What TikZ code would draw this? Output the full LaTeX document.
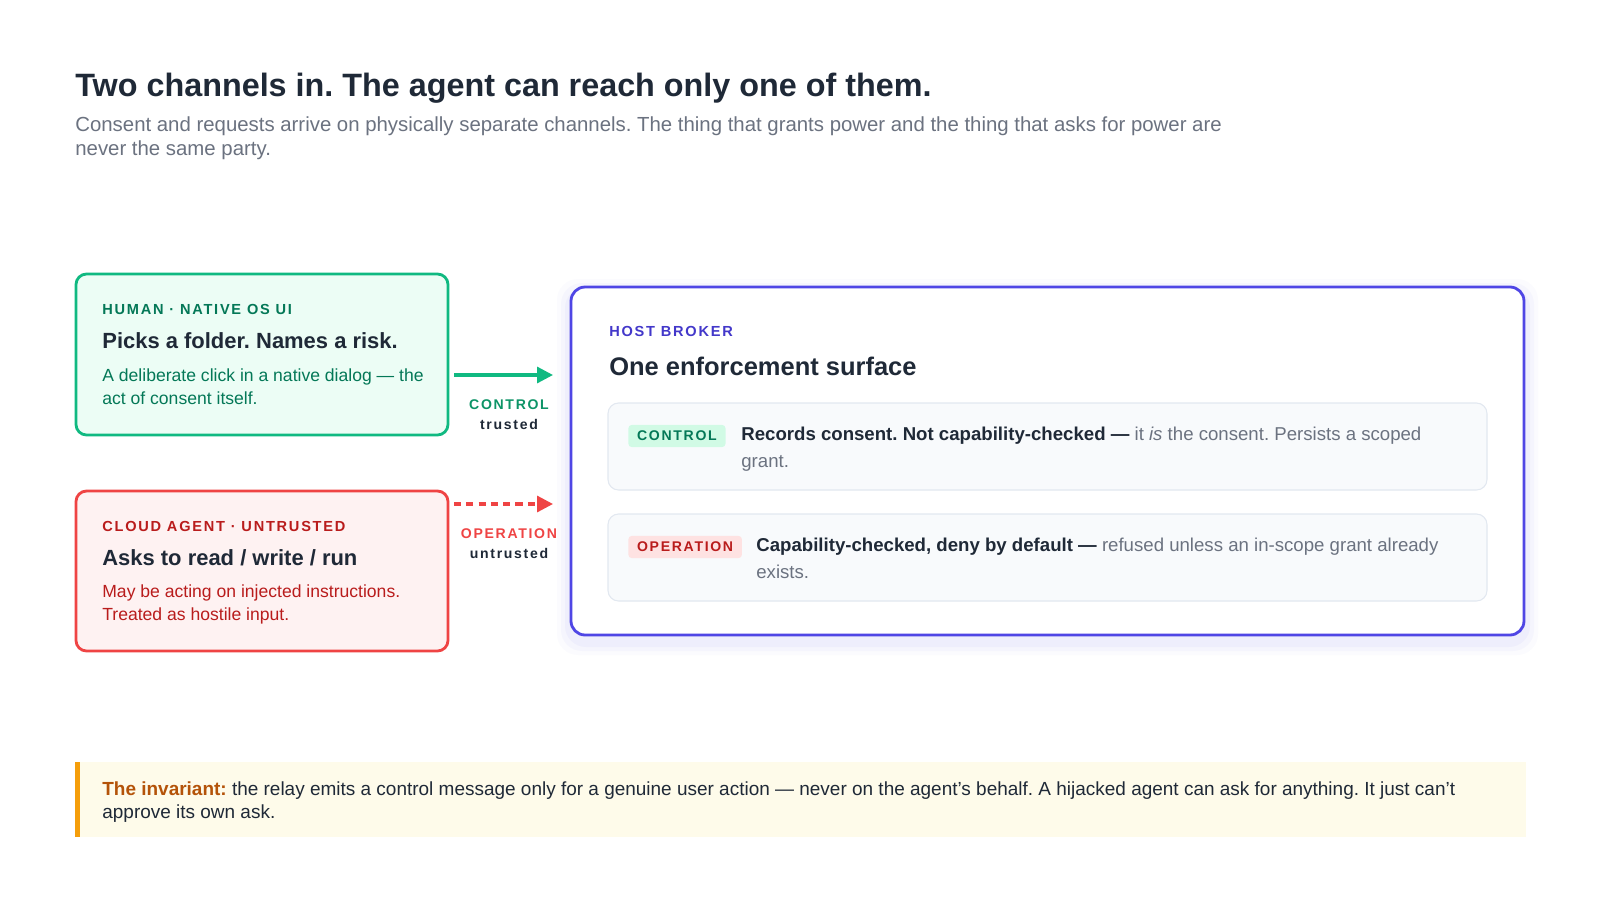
\documentclass[tikz,border=0pt]{standalone}
\usepackage{fontspec}
\setmainfont{Liberation Sans}
\newfontfamily\capsfont[LetterSpace=12]{Liberation Sans}
\usepackage{tikz}
\usetikzlibrary{arrows.meta,positioning,calc}
\usepackage{xcolor}
\definecolor{ink}{HTML}{1F2937}
\definecolor{muted}{HTML}{6B7280}
\definecolor{grn}{HTML}{10B981}
\definecolor{grnfill}{HTML}{ECFDF5}
\definecolor{grntext}{HTML}{047857}
\definecolor{grnbadge}{HTML}{D1FAE5}
\definecolor{rd}{HTML}{EF4444}
\definecolor{rdfill}{HTML}{FEF2F2}
\definecolor{rdtext}{HTML}{B91C1C}
\definecolor{rdbadge}{HTML}{FEE2E2}
\definecolor{prp}{HTML}{4F46E5}
\definecolor{prptext}{HTML}{4338CA}
\definecolor{rowfill}{HTML}{F8FAFC}
\definecolor{rowline}{HTML}{E2E8F0}
\definecolor{amb}{HTML}{F59E0B}
\definecolor{ambfill}{HTML}{FEFBEA}
\definecolor{ambtext}{HTML}{B45309}
\frenchspacing

\begin{document}
\begin{tikzpicture}[x=0.02cm, y=-0.02cm,
    card/.style={rounded corners=6pt, line width=1.6pt},
    row/.style={rounded corners=6pt, draw=rowline, line width=0.6pt, fill=rowfill},
    badge/.style={rounded corners=2pt, inner xsep=5pt, inner ysep=3.5pt, font=\capsfont\bfseries\fontsize{8}{9}\selectfont},
    tag/.style={anchor=base west, inner sep=0pt, font=\capsfont\bfseries\fontsize{8.3}{9}\selectfont},
    head/.style={anchor=base west, inner sep=0pt, font=\bfseries\fontsize{12.5}{14}\selectfont, text=ink},
    body/.style={anchor=base west, inner sep=0pt, align=left},
    chan/.style={anchor=base, inner sep=0pt, font=\capsfont\bfseries\fontsize{8}{9}\selectfont}]
    \useasboundingbox[fill=white] (0,0) rectangle (1600,900);

    % Title (two-line nodes are placed by their last baseline)
    \node[anchor=base west, inner sep=0pt, font=\bfseries\fontsize{18.4}{21}\selectfont, text=ink] (title) at (75,96) {Two channels in. The agent can reach only one of them.};
    \node[body, font=\fontsize{11.6}{13.4}\selectfont, text=muted] (sub) at (75,155) {Consent and requests arrive on physically separate channels. The thing that grants power and the thing that asks for power are\\never the same party.};

    % Human card
    \draw[card, draw=grn, fill=grnfill] (76,274) rectangle (448,435);
    \node[tag, text=grntext] (humtag) at (102,314) {HUMAN · NATIVE OS UI};
    \node[head] (humhead) at (102,348) {Picks a folder. Names a risk.};
    \node[body, font=\fontsize{10}{13}\selectfont, text=grntext] (humbody) at (102,404) {A deliberate click in a native dialog — the\\act of consent itself.};

    % Agent card
    \draw[card, draw=rd, fill=rdfill] (76,491) rectangle (448,651);
    \node[tag, text=rdtext] (agttag) at (102,531) {CLOUD AGENT · UNTRUSTED};
    \node[head] (agthead) at (102,565) {Asks to read / write / run};
    \node[body, font=\fontsize{10}{13}\selectfont, text=rdtext] (agtbody) at (102,620) {May be acting on injected instructions.\\Treated as hostile input.};

    % Channels
    \coordinate (ctlA) at (454,375);
    \coordinate (ctlB) at (553,375);
    \coordinate (opA) at (454,504);
    \coordinate (opB) at (553,504);
    \draw[grn, line width=1.8pt, -{Triangle[length=9pt,width=9pt]}] (ctlA) -- (ctlB);
    \draw[rd, line width=1.8pt, dashed, dash pattern=on 4pt off 3pt, -{Triangle[length=9pt,width=9pt]}] (opA) -- (opB);
    \node[chan, text=grn!80!black] (ctllab) at (509,409) {CONTROL};
    \node[chan, text=ink] (ctlsub) at (509,429) {trusted};
    \node[chan, text=rd] (oplab) at (509,538) {OPERATION};
    \node[chan, text=ink] (opsub) at (509,558) {untrusted};

    % Host broker
    \foreach \s/\o in {14/0.02,10/0.03,6/0.04}
        \fill[prp, opacity=\o, rounded corners=12pt] (571-\s,287-\s+6) rectangle (1524+\s,635+\s+6);
    \draw[card, draw=prp, fill=white, rounded corners=8pt] (571,287) rectangle (1524,635);
    \node[tag, text=prptext] (hosttag) at (609,336) {HOST BROKER};
    \node[anchor=base west, inner sep=0pt, font=\bfseries\fontsize{14.5}{16}\selectfont, text=ink] (hosthead) at (609,375) {One enforcement surface};

    \draw[row] (608,403) rectangle (1487,490);
    \node[badge, fill=grnbadge, text=grntext, anchor=west] (ctlbadge) at (628,436) {CONTROL};
    \node[body, font=\fontsize{10.6}{15}\selectfont, text=muted] (ctltext) at (741,467) {\textbf{\color{ink}Records consent. Not capability-checked —} it \textit{is} the consent. Persists a scoped\\grant.};

    \draw[row] (608,514) rectangle (1487,601);
    \node[badge, fill=rdbadge, text=rdtext, anchor=west] (opbadge) at (628,547) {OPERATION};
    \node[body, font=\fontsize{10.6}{15}\selectfont, text=muted] (optext) at (756,578) {\textbf{\color{ink}Capability-checked, deny by default —} refused unless an in-scope grant already\\exists.};

    % Invariant
    \fill[ambfill] (75,762) rectangle (1526,837);
    \fill[amb] (75,762) rectangle (80,837);
    \node[body, font=\fontsize{10.8}{13}\selectfont, text=ink] (inv) at (102,818) {\textbf{\color{ambtext}The invariant:} the relay emits a control message only for a genuine user action — never on the agent's behalf. A hijacked agent can ask for anything. It just can't\\approve its own ask.};
\end{tikzpicture}
\end{document}
